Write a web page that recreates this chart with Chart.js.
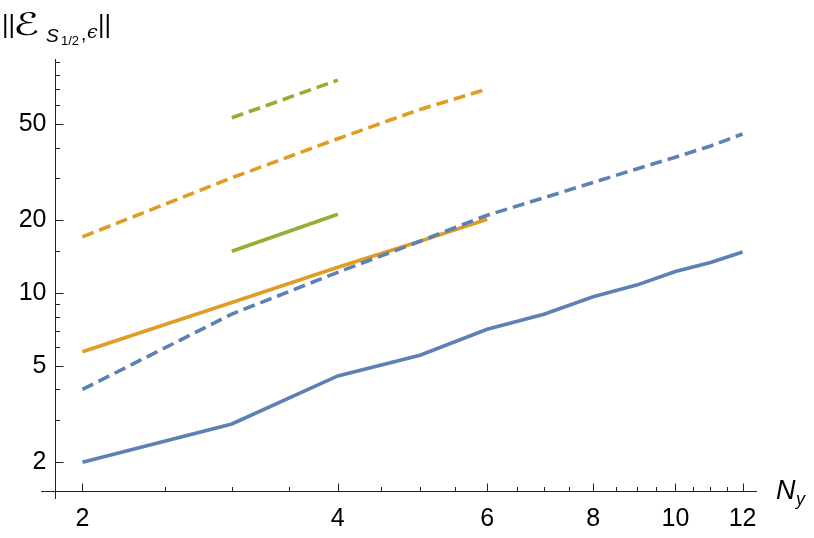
<!DOCTYPE html>
<html>
<head>
<meta charset="utf-8">
<script src="https://cdn.jsdelivr.net/npm/chart.js@4/dist/chart.umd.min.js"></script>
<style>
  html, body { margin: 0; padding: 0; background: #fff; }
  #wrap { width: 814px; height: 538px; }
</style>
</head>
<body>
<div id="wrap"><canvas id="normChart" width="814" height="538"></canvas></div>
<script>
// N_y values for each group of curves
const nBlue = [2, 3, 4, 5, 6, 7, 8, 9, 10, 11, 12];
const nOrange = [2, 3, 4, 5, 6];
const nGreen = [3, 4];

// norm values
const blueSolid = [2.0, 2.88, 4.55, 5.54, 7.09, 8.18, 9.67, 10.8, 12.3, 13.4, 14.8];
const blueDashed = [4.0, 8.2, 12.2, 16.4, 21.0, 24.8, 28.7, 32.6, 36.5, 40.6, 45.5];
const orangeSolid = [5.73, 9.15, 12.8, 16.4, 20.2];
const orangeDashed = [17.1, 30.0, 43.5, 57.5, 69.8];
const greenSolid = [14.9, 21.2];
const greenDashed = [53.1, 76.0];

// axis ticks
const xTicks = [2, 4, 6, 8, 10, 12];
const xMinor = [2.5, 3, 3.5, 4.5, 5, 5.5, 6.5, 7, 7.5, 8.5, 9, 9.5, 10.5, 11, 11.5];
const yTicks = [2, 5, 10, 20, 50];
const yMinor = [3, 4, 6, 7, 8, 9, 15, 30, 40, 60, 70, 80, 90];

const BLUE = "#5e81b5";
const ORANGE = "#e19c24";
const GREEN = "#8fb032";
const FONT = "'Liberation Sans', Arial, sans-serif";

function pts(xs, ys) {
    return xs.map((x, i) => ({ x: x, y: ys[i] }));
}

function line(xs, ys, color, dashed) {
    return {
        data: pts(xs, ys),
        borderColor: color,
        borderWidth: 3.6,
        borderDash: dashed ? [12, 6] : [],
        borderCapStyle: "butt",
        pointRadius: 0,
        tension: 0,
        fill: false
    };
}

// draws Mathematica-style crossing axes with inward ticks, and the axis titles
const axesPlugin = {
    id: "axesPlugin",
    beforeDatasetsDraw(chart) {
        const ctx = chart.ctx;
        const xs = chart.scales.x;
        const ys = chart.scales.y;
        const ax = 55.5;
        const ay = 491.5;
        ctx.save();
        ctx.strokeStyle = "#222";
        ctx.lineWidth = 1;
        ctx.beginPath();
        ctx.moveTo(41, ay); ctx.lineTo(757, ay);
        ctx.moveTo(ax, 59); ctx.lineTo(ax, 499);
        xTicks.forEach(v => {
            const p = Math.round(xs.getPixelForValue(v)) + 0.5;
            ctx.moveTo(p, ay); ctx.lineTo(p, ay - 8);
        });
        xMinor.forEach(v => {
            const p = Math.round(xs.getPixelForValue(v)) + 0.5;
            ctx.moveTo(p, ay); ctx.lineTo(p, ay - 4.5);
        });
        yTicks.forEach(v => {
            const p = Math.round(ys.getPixelForValue(v)) + 0.5;
            ctx.moveTo(ax, p); ctx.lineTo(ax + 8, p);
        });
        yMinor.forEach(v => {
            const p = Math.round(ys.getPixelForValue(v)) + 0.5;
            ctx.moveTo(ax, p); ctx.lineTo(ax + 4.5, p);
        });
        ctx.stroke();
        ctx.restore();
    },
    afterDraw(chart) {
        const ctx = chart.ctx;
        ctx.save();
        ctx.fillStyle = "#000";
        ctx.textBaseline = "alphabetic";
        ctx.textAlign = "left";
        // x axis title N_y
        ctx.font = "italic 27px " + FONT;
        ctx.fillText("N", 776, 499);
        ctx.font = "italic 18px " + FONT;
        ctx.fillText("y", 796, 505);
        // y axis title ||E_{S_{1/2},eps}||
        ctx.font = "25px " + FONT;
        ctx.fillText("||", 2, 33);
        ctx.save();
        ctx.translate(13, 35);
        ctx.scale(1.4, 1);
        ctx.font = "31px 'DejaVu Sans', sans-serif";
        ctx.fillText("\u2130", 0, 0);
        ctx.restore();
        ctx.font = "italic 19px " + FONT;
        ctx.fillText("S", 46, 42);
        ctx.font = "13px " + FONT;
        ctx.fillText("1/2", 61, 45);
        ctx.font = "19px " + FONT;
        ctx.fillText(",", 81, 40);
        ctx.font = "italic 19px 'DejaVu Serif', serif";
        ctx.fillText("\u03f5", 87, 38);
        ctx.font = "25px " + FONT;
        ctx.fillText("||", 98, 33);
        ctx.restore();
    }
};

const ctx = document.getElementById("normChart").getContext("2d");

new Chart(ctx, {
    type: "line",
    data: {
        datasets: [
            line(nBlue, blueSolid, BLUE, false),
            line(nBlue, blueDashed, BLUE, true),
            line(nOrange, orangeSolid, ORANGE, false),
            line(nOrange, orangeDashed, ORANGE, true),
            line(nGreen, greenSolid, GREEN, false),
            line(nGreen, greenDashed, GREEN, true)
        ]
    },
    options: {
        responsive: false,
        animation: false,
        devicePixelRatio: 1,
        layout: { padding: { top: 59, right: 57, left: 0, bottom: 0 } },
        plugins: { legend: { display: false }, tooltip: { enabled: false } },
        scales: {
            x: {
                type: "logarithmic",
                min: 1.859,
                max: 12.48,
                grid: { display: false, drawTicks: false },
                border: { display: false },
                afterBuildTicks: s => { s.ticks = xTicks.map(v => ({ value: v })); },
                afterFit: s => { s.height = 47; },
                ticks: {
                    autoSkip: false,
                    maxRotation: 0,
                    padding: 13,
                    color: "#000",
                    font: { family: FONT, size: 25 },
                    callback: v => String(v)
                }
            },
            y: {
                type: "logarithmic",
                min: 1.522,
                max: 92.9,
                grid: { display: false, drawTicks: false },
                border: { display: false },
                afterBuildTicks: s => { s.ticks = yTicks.map(v => ({ value: v })); },
                afterFit: s => { s.width = 55.5; },
                ticks: {
                    autoSkip: false,
                    padding: 9,
                    color: "#000",
                    font: { family: FONT, size: 25 },
                    callback: v => String(v)
                }
            }
        }
    },
    plugins: [axesPlugin]
});
</script>
</body>
</html>
